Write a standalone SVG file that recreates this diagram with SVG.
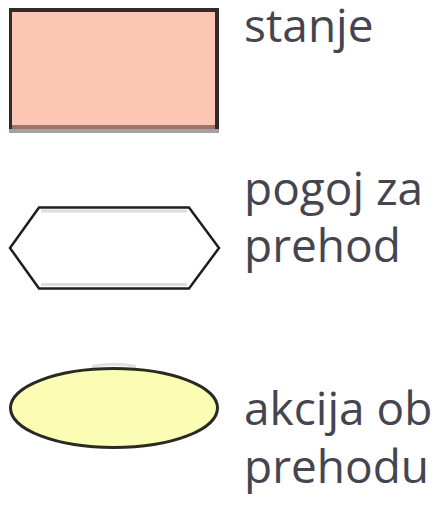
<svg xmlns="http://www.w3.org/2000/svg" width="444" height="506" viewBox="0 0 444 506">
  <style>
    .label { font-family: "Open Sans", "Liberation Sans", sans-serif; font-size: 46px; fill: #45454f; }
  </style>
  <rect width="444" height="506" fill="#ffffff"/>

  <!-- state symbol -->
  <g id="state">
    <rect x="9" y="129" width="210" height="4" fill="#a2a2a2"/>
    <rect x="9" y="8" width="210" height="121" fill="#302b29"/>
    <rect x="12" y="12" width="203" height="113" fill="#fdc5b3"/>
    <rect x="12" y="125" width="203" height="4" fill="#9c7369"/>
  </g>

  <!-- transition condition symbol -->
  <g id="condition">
    <polygon points="39,207.5 189,207.5 219,248 189,288.5 39,288.5 10,248" fill="#ffffff" stroke="#1e1e1e" stroke-width="2.5" stroke-linejoin="miter"/>
    <line x1="41" y1="211" x2="187" y2="211" stroke="#dcdcdc" stroke-width="3"/>
    <line x1="41" y1="284.5" x2="187" y2="284.5" stroke="#dcdcdc" stroke-width="3"/>
  </g>

  <!-- transition action symbol -->
  <g id="action">
    <path d="M 92 366.5 Q 114 362 136 366.5" fill="none" stroke="#e0e0e0" stroke-width="3"/>
    <ellipse cx="114" cy="408" rx="103.5" ry="39.5" fill="#fcfdb5" stroke="#2a2a22" stroke-width="3"/>
  </g>

  <!-- labels -->
  <g id="labels">
    <text class="label" x="244" y="42">stanje</text>
    <text class="label" x="244" y="205">pogoj za</text>
    <text class="label" x="244" y="262">prehod</text>
    <text class="label" x="244" y="425">akcija ob</text>
    <text class="label" x="244" y="483">prehodu</text>
  </g>
</svg>
